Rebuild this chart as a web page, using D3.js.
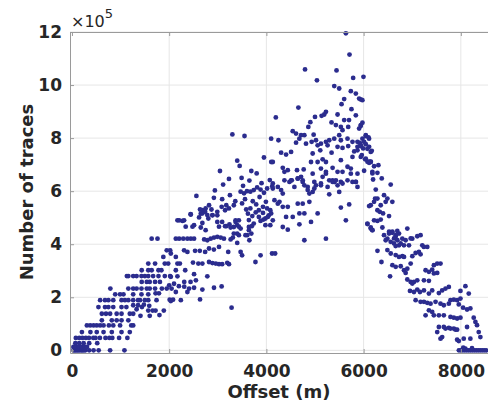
<!DOCTYPE html>
<html>
<head>
<meta charset="utf-8"/>
<script src="https://cdn.jsdelivr.net/npm/d3@7"></script>
<style>
  body { margin: 0; background: #fff; }
  text { font-family: "DejaVu Sans", sans-serif; fill: #262626; }
</style>
</head>
<body>
<script>
// offset in m, number of traces in units of 1e5
var xTicks = [0, 2000, 4000, 6000, 8000];
var yTicks = [0, 2, 4, 6, 8, 10, 12];

var risingPts = [
  [30,0],[55,0],[80,0],[105,0],[130,0],[160,0],[190,0],[215,0],[245,0],[275,0],[355,0],[445,0],[550,0],[785,0],[1080,0],
  [30,0.13],[85,0.13],[140,0.13],[200,0.13],[260,0.13],[310,0.13],
  [70,0.27],[150,0.27],[240,0.27],[355,0.27],[520,0.27],
  [80,0.47],[150,0.47],[215,0.47],[285,0.47],[350,0.47],[440,0.47],[485,0.47],[575,0.47],[690,0.47],[770,0.47],[830,0.47],[970,0.47],[1140,0.47],
  [205,0.69],[380,0.69],[510,0.69],[650,0.69],[820,0.69],[1020,0.69],[1190,0.69],
  [307,0.94],[375,0.94],[445,0.94],[510,0.94],[580,0.94],[650,0.94],[760,0.94],[850,0.94],[990,0.94],[1220,0.94],[1260,0.94],
  [615,1.13],[820,1.13],[920,1.13],[1020,1.13],[1160,1.13],
  [615,1.38],[700,1.38],[785,1.38],[920,1.38],[1020,1.38],[1190,1.38],[1260,1.38],[1410,1.3],[1600,1.3],[1800,1.33],
  [545,1.63],[680,1.63],[750,1.63],[850,1.63],[1020,1.63],[1120,1.63],[1330,1.55],[1440,1.63],[1570,1.5],[1660,1.5],[1720,1.5],[1890,1.5],[1260,1.7],[1360,1.7],[1480,1.72],[1590,1.68],
  [580,1.89],[680,1.89],[750,1.89],[850,1.89],[1020,1.89],[1090,1.89],[1160,1.89],[1260,1.89],[1360,1.89],[1400,1.89],[1500,1.89],[1570,1.89],[1740,1.89],[2010,1.91],[2080,1.91],
  [890,2.11],[990,2.11],[1060,2.11],[1260,2.11],[1430,2.11],[1570,2.11],[1720,2.15],[1790,2.15],
  [790,2.33],[1160,2.33],[1260,2.33],[1330,2.33],[1430,2.33],[1540,2.33],[1600,2.33],[1710,2.33],[1850,2.33],[1950,2.33],[2050,2.33],
  [1435,2.58],[1540,2.58],[1600,2.58],[1710,2.58],[1810,2.58],
  [1130,2.8],[1160,2.8],[1260,2.8],[1330,2.8],[1430,2.8],[1500,2.8],[1570,2.8],[1670,2.8],[1780,2.8],[1910,2.8],[2020,2.8],
  [1435,3.02],[1570,3.02],[1640,3.02],[1780,3.02],[1840,3.02],
  [1570,3.27],[1710,3.27],[1910,3.27],[1980,3.27],
  [1880,3.52],[1950,3.77],[2020,3.77],[1640,4.21],[1760,4.21]
];

var middlePts = [
  [4117,3.65],[3880,3.58],[3775,3.33],[3284,1.61],[2635,1.92],[2240,1.89],[2034,1.86],
  [2137,2.2],[2375,2.2],[2512,2.36],[2683,2.29],[2922,2.36],[3079,2.41],[2410,2.33],[2310,2.4],
  [2000,2.45],[2100,2.51],[2200,2.42],[2310,2.58],[2440,2.58],[2550,2.64],[2785,2.79],
  [2137,3.02],[2330,3.02],[2512,2.87],[2034,2.77],[2170,2.79],
  [2170,3.27],[2220,3.27],[2490,3.31],[2600,3.27],[2683,3.27],[2820,3.33],[2890,3.29],[2960,3.27],[3025,3.25],[3090,3.25],[3195,3.3],[3230,3.25],
  [2034,3.65],[2137,3.52],[2307,3.77],[2375,3.71],[2533,3.75],[2630,3.75],[2740,3.71],[2820,3.84],[2920,3.8],[3025,3.9],[3215,3.71],[3470,3.71],[3500,3.58],
  [2137,4.21],[2205,4.21],[2290,4.21],[2375,4.21],[2445,4.21],[2512,4.21],[2720,4.18],[2785,4.15],[2854,4.21],[2922,4.25],[2990,4.28],[3060,4.25],[3127,4.21],[3264,4.18],[3310,4.25],[3400,4.05],[3434,4.34],[3605,4.34],[3650,4.15],[3690,4.4],
  [2170,4.9],[2307,4.9],[2512,4.72],[2683,4.8],[2806,4.97],[2890,5.09],[2990,5.09],[2650,5.15],[2683,5.28],[2750,5.35],[2440,5.13],[3090,4.84],[3150,4.68],[3240,4.75],[3330,4.65],[3366,4.9],[3400,4.72],[3434,4.9],[3470,4.59],[3640,4.65],[3700,4.68],[3880,4.88],[3980,4.97],[4050,5.09],[4080,4.72],
  [3300,8.14],[3550,8.08],[3950,7.27],[4100,7.1],[3400,7.15],[3450,6.95],[3045,6.76],[3230,6.46],[3490,6.5],[3690,6.76],[3800,6.67],[3650,6.4],[4070,6.42],
  [2940,6.03],[3110,6.25],[2560,5.82],[2920,5.75],[3090,5.7],[3250,5.85],[3470,5.98],[3540,5.92],[3600,6.0],[3670,5.98],[3740,6.04],[3810,6.14],[3880,6.06],[3950,5.94],[4015,6.1],[4120,6.19],
  [2820,5.47],[2870,5.31],[2740,5.22],[2635,5.31],[2683,5.16],[2785,5.1],[2615,5.01],[2890,5.1],[2990,5.22],[3080,5.41],[3150,5.28],[3230,5.35],[3175,5.47],[3330,5.47],[3500,5.54],[3585,5.31],[3670,5.35],[3790,5.5],[3845,5.28],[3930,5.41],[4015,5.35],[4080,5.28],
  [2205,4.9],[2273,4.88],[2445,5.12],[2340,4.66],[2480,4.66],[2650,4.63],[2750,4.53],[2990,4.84],[3025,4.66],[3175,4.68],[3264,4.63],[3366,4.84],[3434,4.66],[3640,4.91],[3710,5.06],[3740,4.78],[3845,5.03],[3940,4.93],[4030,5.03],[3980,4.72],[3640,4.53],[3570,4.34],[3400,4.4],[3330,4.4],
  [3560,5.7],[3720,5.62],[3860,5.78],[3990,5.6],[3620,5.15],[3780,5.2],[3930,5.18],[3360,5.62],[3520,6.2],[3900,6.3]
];

var peakPts = [
  [5635,11.95],[5710,11.15],[4795,10.59],[5443,10.55],[5040,10.18],[5785,10.27],[5997,10.31],
  [5396,9.96],[5498,9.87],[5737,9.77],[5840,9.68],[5908,9.49],[5940,9.46],[5975,9.43],[5600,9.47],[5546,9.28],[5750,9.09],
  [4658,9.15],[4194,8.78],[5225,8.99],[5190,8.89],[5136,8.84],[5000,8.8],[5464,8.89],[5600,8.68],[5700,8.68],[5840,8.86],[5940,8.46],[5908,8.36],
  [4904,8.6],[4863,8.42],[4972,8.13],[5340,8.59],[5430,8.49],[5532,8.42],[5683,8.42],[5566,8.3],[5498,8.11],
  [4542,8.26],[4610,8.17],[4713,8.11],[4781,8.11],[4678,7.98],[4815,7.79],[4931,7.86],[5020,7.92],[5122,7.79],[5225,7.86],[5293,7.92],[5396,7.98],[5532,7.92],[5669,7.98],[5771,7.86],[5874,7.86],[5976,7.98],[6046,8.08],[6112,7.98],
  [4098,7.98],[4248,7.92],[4610,7.83],[5054,7.73],[5259,7.73],[5341,7.45],[5464,7.67],[5566,7.63],[5683,7.7],[5806,7.5],[5942,7.73],[6078,7.6],[6147,7.48],[5874,7.54],
  [4303,7.45],[4405,7.38],[4508,7.48],[4952,7.42],[5108,7.54],[5157,7.2],[4918,7.1],[5054,7.1],[5225,7.1],[5362,6.88],[5532,7.17],[5669,6.92],[5771,7.29],[5942,7.29],[6044,7.23],[6113,7.11],[6147,7.1],
  [4132,7.1],[4337,6.88],[4371,6.73],[4440,6.79],[4630,6.79],[4767,6.82],[4952,6.66],[5122,6.85],[5225,6.73],[5362,6.41],[5396,6.35],[5464,6.73],[5566,6.73],[5737,6.85],[5874,6.66],[6180,6.73],
  [4371,6.41],[4508,6.41],[4645,6.47],[4747,6.35],[4850,6.16],[4986,6.35],[5122,6.22],[5259,6.16],[5293,6.41],[5396,6.35],[5532,6.35],[5771,6.35],[5874,6.16],[4132,6.1],
  [4132,6.29],[4235,6.16],[4303,6.04],[4337,5.91],[4166,5.66],[4235,5.53],[4269,5.6],[4337,5.41],[4098,5.16],[4132,4.9],[4440,5.41],[4474,6.35],[4522,6.41],[4576,6.16],[4645,6.48],[4713,6.54],[4747,6.41],[4781,6.22],[4850,6.04],[4884,5.91],[4986,6.1],[5020,6.22],[5122,6.29],[5157,6.54],[5225,6.66],[5362,6.35],[5430,6.41],[5464,6.22],[5498,5.97],[5566,6.29],[5669,6.41],[5737,6.66],[5840,6.35],
  [4952,5.97],[4884,5.6],[4781,5.16],[4679,5.16],[4645,5.53],[4747,5.53],[5054,5.16],[4918,4.84],[4679,4.75],[4542,5.03],[4405,5.03],[4337,4.65],[4440,4.55],[5293,5.88],[5532,5.38],[5635,4.9],[5703,5.5],[4781,4.15],[5225,4.21],[4180,3.65],
  [6147,5.47],[6078,4.78],[6147,4.59],[6180,4.53],[6215,4.9]
];

var fallingPts = [
  [5942,8.49],[5976,8.58],[6045,8.11],[6100,8.03],[6010,7.86],[5922,7.82],[5874,7.67],[5942,7.7],[5990,7.61],[6045,7.77],[6113,7.67],[6168,7.52],
  [5963,7.36],[6031,7.2],[6079,7.11],[6147,7.11],[6113,7.07],[6215,6.94],[6304,6.98],
  [6010,6.77],[6181,6.67],[6284,6.69],[6195,6.44],[6373,6.48],[6557,6.25],[5840,6.35],
  [6250,6.06],[6236,5.72],[6215,5.6],[6284,5.72],[6420,5.85],[6489,5.72],[6454,5.6],[6591,5.6],[6352,5.47],[6113,5.44],
  [6284,5.28],[6332,5.22],[6400,5.16],[6523,5.06],[6352,4.93],[6284,4.88],
  [6079,4.76],[6147,4.63],[6181,4.53],[6386,4.63],[6523,4.47],[6591,4.43],[6693,4.5],[6728,4.4],[6899,4.59],[7001,4.21],[7104,4.3],[7172,4.34],[6420,4.34],[6489,4.21],[6659,4.28],[6796,4.21],[6864,4.15],[6557,4.09],[6625,4.03],[6728,3.96],[6830,3.96],[6933,3.96],[6659,3.93],[6454,4.15],[7240,3.9],[7310,3.9],
  [6524,4.4],[6592,4.47],[6660,4.34],[6626,4.22],[6695,4.15],[6763,4.03],[6968,4.22],[7207,3.96],
  [6489,3.78],[6558,3.65],[6660,3.59],[6728,3.52],[6797,3.55],[6831,3.52],[7002,3.55],[7070,3.67],[7138,3.71],[7172,3.62],[6285,3.75],[6367,3.33],
  [6592,3.21],[6660,3.15],[6763,3.17],[6831,3.02],[6865,2.92],[6899,3.08],[6968,3.27],[7275,3.02],[7343,2.96],[7411,3.04],[7446,3.21],[7514,3.27],[7582,3.27],[7446,2.9],[7514,2.92],[6544,2.79],
  [6899,2.67],[6968,2.58],[7036,2.58],[7104,2.64],[7002,2.52],[7241,2.64],[7343,2.62],
  [6954,2.24],[7036,2.2],[7104,2.29],[7159,2.2],[7241,2.26],[7343,2.14],[7411,2.26],[7548,2.16],[7616,2.26],[7685,2.33],[7753,2.39],[7992,2.24],[8094,2.42],[8163,2.14],
  [7070,1.89],[7172,1.83],[7241,1.83],[7309,1.79],[7377,1.76],[7480,1.83],[7582,1.76],[7650,1.7],[7753,1.76],[7787,1.89],[7856,1.91],[7924,1.89],[7992,1.95],[7958,1.73],[8046,1.61],[8128,1.54],[8196,1.58],
  [7343,1.51],[7411,1.45],[7275,1.32],[7445,1.32],[7548,1.32],[7650,1.32],[7787,1.26],[7856,1.23],[7924,1.2],[7992,1.23],[8265,1.23],[8300,1.07],[8333,0.95],
  [7548,0.88],[7650,0.88],[7685,0.82],[7753,0.85],[7787,0.82],[7856,0.82],[7890,0.78],[7924,0.78],[7514,0.69],
  [8128,0.88],[8368,0.69],[8402,0.5],[8196,0.44],[8060,0.44],[7924,0.4],[7958,0.35],[7616,0.5],[7582,0.44],[8094,0.06],
  [7960,0],[8000,0],[8040,0],[8080,0],[8120,0],[8160,0],[8200,0],[8240,0],[8280,0],[8320,0],[8360,0],[8400,0],[8440,0],[8480,0],[8520,0],[8050,0.1],[8230,0.08]
];

var w = 488, h = 405;
var mLeft = 70, mRight = 490, mTop = 32, mBottom = 353;

var svg = d3.select("body").append("svg")
    .attr("width", w)
    .attr("height", h);

svg.append("rect").attr("width", w).attr("height", h).attr("fill", "#fff");

var x = d3.scaleLinear().domain([-40, 8600]).range([mLeft, mRight]);
var y = d3.scaleLinear().domain([-0.1, 12]).range([mBottom, mTop]);

// grid
svg.append("g").selectAll("line").data(xTicks.slice(1)).enter().append("line")
    .attr("x1", function(d) { return x(d); }).attr("x2", function(d) { return x(d); })
    .attr("y1", mTop).attr("y2", mBottom)
    .attr("stroke", "#e6e6e6");
svg.append("g").selectAll("line").data(yTicks).enter().append("line")
    .attr("x1", mLeft).attr("x2", mRight)
    .attr("y1", function(d) { return y(d); }).attr("y2", function(d) { return y(d); })
    .attr("stroke", "#e6e6e6");

// points
var all = risingPts.concat(middlePts, peakPts, fallingPts);
svg.append("g").selectAll("circle").data(all).enter().append("circle")
    .attr("cx", function(d) { return x(d[0]); })
    .attr("cy", function(d) { return y(d[1]); })
    .attr("r", 2.4)
    .attr("fill", "#2b2c8e");

// axes, MATLAB style ticks inside
var xAxis = svg.append("g").attr("transform", "translate(0," + mBottom + ")")
    .call(d3.axisBottom(x).tickValues(xTicks).tickFormat(d3.format("d"))
        .tickSizeInner(-4).tickSizeOuter(0).tickPadding(12));
var xTop = svg.append("g").attr("transform", "translate(0," + mTop + ")")
    .call(d3.axisTop(x).tickValues(xTicks).tickFormat("")
        .tickSizeInner(-4).tickSizeOuter(0));
var yAxis = svg.append("g").attr("transform", "translate(" + mLeft + ",0)")
    .call(d3.axisLeft(y).tickValues(yTicks).tickFormat(d3.format("d"))
        .tickSizeInner(-4).tickSizeOuter(0).tickPadding(8));

[xAxis, xTop, yAxis].forEach(function(g) {
    g.select(".domain").attr("stroke", "#9a9a9a");
    g.selectAll(".tick line").attr("stroke", "#9a9a9a");
    g.selectAll(".tick text")
        .style("font-family", "DejaVu Sans, sans-serif")
        .style("font-size", "17px")
        .style("font-weight", "bold")
        .attr("fill", "#262626");
});

// axis labels
svg.append("text")
    .attr("x", 279).attr("y", 398)
    .attr("text-anchor", "middle")
    .style("font-size", "18px").style("font-weight", "bold")
    .text("Offset (m)");

svg.append("text")
    .attr("transform", "translate(33,192) rotate(-90)")
    .attr("text-anchor", "middle")
    .style("font-size", "18px").style("font-weight", "bold")
    .text("Number of traces");

var exp = svg.append("text")
    .attr("x", 71).attr("y", 27)
    .style("font-size", "16px");
exp.append("tspan").text("\u00d710");
exp.append("tspan").attr("dy", -9).style("font-size", "13px").text("5");
</script>
</body>
</html>
